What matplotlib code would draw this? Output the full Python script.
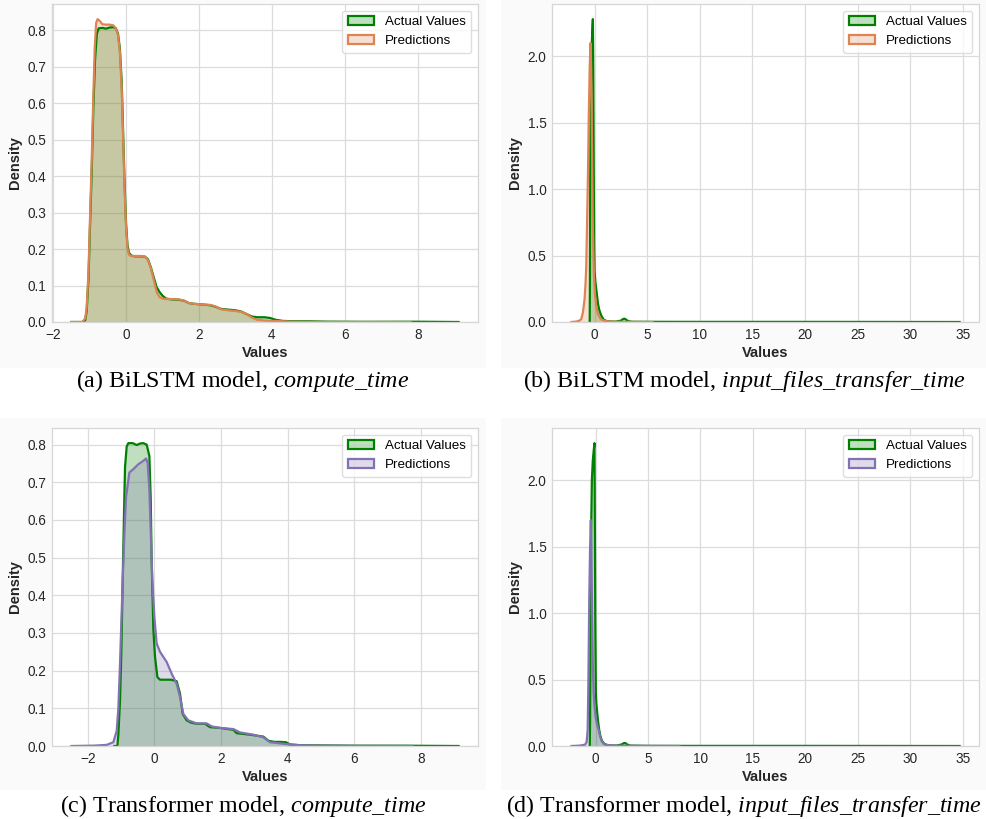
import matplotlib
matplotlib.use("Agg")
import matplotlib.pyplot as plt
from matplotlib.patches import Patch, Rectangle

# ---------------- data ----------------
# (a) BiLSTM, compute_time
a_act_x = [-1.50, -1.20, -1.12, -1.08, -1.03, -0.99, -0.94, -0.90, -0.85, -0.80, -0.75, -0.65, -0.55,
           -0.45, -0.35, -0.28, -0.22, -0.17, -0.12, -0.08, -0.04, 0.00, 0.04, 0.08, 0.14, 0.25, 0.40,
           0.52, 0.60, 0.68, 0.76, 0.84, 0.92, 1.00, 1.10, 1.25, 1.45, 1.60, 1.72, 1.85, 2.10, 2.30,
           2.45, 2.60, 2.80, 3.00, 3.15, 3.30, 3.45, 3.60, 3.80, 3.95, 4.10, 4.30, 4.60, 5.00, 5.50,
           6.50, 8.00, 9.12]
a_act_y = [0.0, 0.0, 0.005, 0.03, 0.12, 0.26, 0.42, 0.58, 0.72, 0.79, 0.805, 0.806, 0.804,
           0.807, 0.808, 0.805, 0.79, 0.75, 0.66, 0.52, 0.38, 0.27, 0.21, 0.19, 0.182, 0.180, 0.180,
           0.179, 0.172, 0.150, 0.122, 0.095, 0.082, 0.072, 0.064, 0.062, 0.061, 0.058, 0.052, 0.050,
           0.048, 0.046, 0.042, 0.036, 0.034, 0.032, 0.029, 0.022, 0.015, 0.013, 0.013, 0.011, 0.006,
           0.003, 0.002, 0.002, 0.001, 0.0005, 0.0008, 0.0]
a_pred_x = [-1.50, -1.20, -1.12, -1.08, -1.03, -0.99, -0.94, -0.90, -0.86, -0.82, -0.78, -0.72, -0.65,
            -0.55, -0.45, -0.35, -0.28, -0.22, -0.17, -0.12, -0.08, -0.04, 0.00, 0.04, 0.08, 0.14,
            0.25, 0.40, 0.52, 0.60, 0.68, 0.76, 0.84, 0.92, 1.00, 1.10, 1.25, 1.45, 1.60, 1.72, 1.85,
            2.10, 2.30, 2.45, 2.60, 2.80, 3.00, 3.15, 3.30, 3.45, 3.60, 3.80, 4.00, 4.30, 4.60, 5.50,
            7.80]
a_pred_y = [0.0, 0.0, 0.01, 0.04, 0.14, 0.28, 0.45, 0.61, 0.75, 0.82, 0.83, 0.825, 0.816,
            0.815, 0.815, 0.813, 0.805, 0.785, 0.74, 0.64, 0.50, 0.36, 0.26, 0.20, 0.185, 0.180,
            0.181, 0.181, 0.179, 0.170, 0.148, 0.115, 0.082, 0.068, 0.064, 0.063, 0.063, 0.062, 0.058,
            0.052, 0.050, 0.048, 0.047, 0.043, 0.035, 0.032, 0.030, 0.028, 0.022, 0.012, 0.006, 0.004,
            0.003, 0.002, 0.0005, 0.0, 0.0]

# (b) BiLSTM, input_files_transfer_time
b_act_x = [-0.46, -0.44, -0.42, -0.38, -0.32, -0.26, -0.20, -0.16, -0.12, -0.08, -0.04, 0.00, 0.08,
           0.16, 0.32, 0.45, 0.63, 0.85, 1.10, 1.50, 2.00, 2.50, 2.70, 2.85, 3.00, 3.20, 3.60, 5.0,
           10.0, 20.0, 34.7]
b_act_y = [0.0, 0.3, 0.9, 1.5, 1.9, 2.1, 2.22, 2.28, 1.9, 1.2, 0.6, 0.38, 0.30,
           0.25, 0.14, 0.09, 0.05, 0.02, 0.008, 0.004, 0.003, 0.010, 0.022, 0.025, 0.018, 0.006,
           0.002, 0.0015, 0.001, 0.001, 0.0]
b_pred_x = [-2.20, -1.75, -1.45, -1.27, -1.11, -0.95, -0.85, -0.79, -0.72, -0.63, -0.55, -0.46,
            -0.38, -0.32, -0.25, -0.16, -0.06, 0.05, 0.16, 0.32, 0.60, 1.00, 1.50, 2.50, 4.00, 5.50]
b_pred_y = [0.0, 0.003, 0.01, 0.02, 0.07, 0.17, 0.30, 0.42, 0.70, 1.10, 1.55, 1.92,
            2.10, 1.90, 1.40, 0.70, 0.35, 0.20, 0.12, 0.06, 0.02, 0.008, 0.003, 0.001, 0.0005, 0.0]

# (c) Transformer, compute_time
c_act_x = [-1.20, -1.11, -1.08, -1.03, -0.99, -0.95, -0.91, -0.88, -0.83, -0.78, -0.65, -0.53,
           -0.43, -0.33, -0.23, -0.15, -0.11, -0.08, -0.03, 0.02, 0.09, 0.17, 0.30, 0.50, 0.67,
           0.77, 0.85, 0.97, 1.10, 1.27, 1.52, 1.67, 1.97, 2.37, 2.47, 2.87, 3.27, 3.42, 3.60,
           3.77, 3.95, 4.07, 4.40, 5.00, 6.00, 7.50, 9.13]
c_act_y = [0.0, 0.0, 0.03, 0.12, 0.25, 0.44, 0.62, 0.74, 0.795, 0.804, 0.804, 0.799,
           0.803, 0.804, 0.80, 0.77, 0.66, 0.49, 0.31, 0.237, 0.183, 0.176, 0.176, 0.176, 0.172,
           0.139, 0.085, 0.068, 0.062, 0.059, 0.059, 0.050, 0.048, 0.043, 0.034, 0.030, 0.025, 0.014,
           0.011, 0.011, 0.010, 0.004, 0.002, 0.0015, 0.0008, 0.0008, 0.0]
c_pred_x = [-2.49, -1.80, -1.43, -1.23, -1.13, -1.08, -1.03, -0.99, -0.95, -0.90, -0.85, -0.75,
            -0.63, -0.48, -0.33, -0.25, -0.20, -0.15, -0.11, -0.06, 0.00, 0.07, 0.17, 0.37, 0.52,
            0.67, 0.77, 0.87, 1.02, 1.27, 1.57, 1.72, 1.97, 2.37, 2.57, 2.97, 3.27, 3.47, 3.97,
            4.37, 5.00, 6.00, 7.75]
c_pred_y = [0.0, 0.001, 0.003, 0.01, 0.04, 0.10, 0.22, 0.33, 0.44, 0.56, 0.66, 0.726,
            0.735, 0.748, 0.757, 0.763, 0.752, 0.68, 0.575, 0.44, 0.343, 0.272, 0.25, 0.223, 0.192,
            0.165, 0.13, 0.085, 0.068, 0.060, 0.060, 0.052, 0.048, 0.045, 0.036, 0.030, 0.023, 0.010,
            0.005, 0.002, 0.001, 0.0005, 0.0]

# (d) Transformer, input_files_transfer_time
d_act_x = [-0.55, -0.52, -0.48, -0.42, -0.35, -0.26, -0.18, -0.10, -0.06, -0.02, 0.03, 0.08,
           0.16, 0.25, 0.35, 0.45, 0.60, 0.86, 1.20, 2.00, 2.50, 2.70, 2.85, 3.00, 3.30, 5.0,
           10.0, 20.0, 34.7]
d_act_y = [0.0, 0.2, 0.9, 1.6, 2.0, 2.15, 2.22, 2.28, 1.6, 0.9, 0.40, 0.32,
           0.25, 0.18, 0.12, 0.08, 0.04, 0.015, 0.005, 0.003, 0.012, 0.022, 0.022, 0.012, 0.003, 0.001,
           0.001, 0.001, 0.0]
d_pred_x = [-2.30, -1.50, -1.00, -0.85, -0.75, -0.68, -0.60, -0.52, -0.45, -0.40, -0.33, -0.26,
            -0.18, -0.10, 0.00, 0.15, 0.30, 0.45, 0.60, 0.80, 1.20, 2.00, 3.00, 5.00, 8.00]
d_pred_y = [0.0, 0.003, 0.01, 0.03, 0.12, 0.50, 1.10, 1.50, 1.70, 1.50, 1.00, 0.62,
            0.40, 0.30, 0.22, 0.16, 0.12, 0.07, 0.035, 0.015, 0.006, 0.003, 0.002, 0.001, 0.0]

captions = [("(a) BiLSTM model, ", "compute_time"),
            ("(b) BiLSTM model, ", "input_files_transfer_time"),
            ("(c) Transformer model, ", "compute_time"),
            ("(d) Transformer model, ", "input_files_transfer_time")]
legend_labels = ["Actual Values", "Predictions"]

# ---------------- styling ----------------
W, H = 987, 819
DPI = 100
plt.rcParams["font.family"] = ["Liberation Sans", "DejaVu Sans"]
plt.rcParams["mathtext.fontset"] = "custom"
plt.rcParams["mathtext.rm"] = "Liberation Serif"
plt.rcParams["mathtext.it"] = "Liberation Serif:italic"

GREEN = "#008000"
ORANGE = "#dd8452"
PURPLE = "#8172b3"
GRID = "#dcdcdc"

fig = plt.figure(figsize=(W / DPI, H / DPI), dpi=DPI, facecolor="white")

# faint background of the original sub-images
for (x0, y0, x1, y1) in [(0, 0, 486, 368), (501, 0, 987, 368),
                         (0, 418, 486, 790), (501, 418, 987, 790)]:
    fig.patches.append(Rectangle((x0 / W, 1 - y1 / H), (x1 - x0) / W, (y1 - y0) / H,
                                 transform=fig.transFigure, facecolor="#fafafa",
                                 edgecolor="none", zorder=-10))

# axes boxes in pixels: left, top, right, bottom
boxes = [(52, 4, 478, 322), (552, 4, 979, 322), (52, 428, 478, 746), (552, 428, 979, 746)]
panels = [
    (a_act_x, a_act_y, a_pred_x, a_pred_y, ORANGE, [-2, 0, 2, 4, 6, 8], [0.0, 0.1, 0.2, 0.3, 0.4, 0.5, 0.6, 0.7, 0.8]),
    (b_act_x, b_act_y, b_pred_x, b_pred_y, ORANGE, [0, 5, 10, 15, 20, 25, 30, 35], [0.0, 0.5, 1.0, 1.5, 2.0]),
    (c_act_x, c_act_y, c_pred_x, c_pred_y, PURPLE, [-2, 0, 2, 4, 6, 8], [0.0, 0.1, 0.2, 0.3, 0.4, 0.5, 0.6, 0.7, 0.8]),
    (d_act_x, d_act_y, d_pred_x, d_pred_y, PURPLE, [0, 5, 10, 15, 20, 25, 30, 35], [0.0, 0.5, 1.0, 1.5, 2.0]),
]
caption_y = [381, 381, 806, 806]
caption_x = [243, 744, 243, 744]

for i, (box, p) in enumerate(zip(boxes, panels)):
    l, t, r, b = box
    ax = fig.add_axes([l / W, 1 - b / H, (r - l) / W, (b - t) / H])
    ax.set_facecolor("white")
    ax_x, ax_y, pr_x, pr_y, pcol, xt, yt = p
    ax.fill_between(ax_x, ax_y, 0, color=GREEN, alpha=0.25, linewidth=0)
    ax.plot(ax_x, ax_y, color=GREEN, linewidth=1.6)
    ax.fill_between(pr_x, pr_y, 0, color=pcol, alpha=0.25, linewidth=0)
    ax.plot(pr_x, pr_y, color=pcol, linewidth=1.6)
    xmin = min(min(ax_x), min(pr_x)); xmax = max(max(ax_x), max(pr_x))
    ymax = max(max(ax_y), max(pr_y))
    pad = 0.05 * (xmax - xmin)
    ax.set_xlim(xmin - pad, xmax + pad)
    ax.set_ylim(0, ymax * 1.05)
    ax.set_xticks(xt)
    ax.set_xticklabels([("\u2212" + str(abs(v))) if v < 0 else str(v) for v in xt])
    ax.set_yticks(yt)
    ax.set_yticklabels(["{:.1f}".format(v) for v in yt])
    ax.tick_params(axis="both", labelsize=9.8, length=0, pad=4, colors="#262626")
    ax.grid(True, color=GRID, linewidth=0.9)
    ax.set_axisbelow(True)
    for s in ax.spines.values():
        s.set_color("#d6d6d6")
        s.set_linewidth(0.9)
    ax.set_xlabel("Values", fontsize=10.5, fontweight="bold", labelpad=3, color="#262626")
    ax.set_ylabel("Density", fontsize=10.5, fontweight="bold", labelpad=4, color="#262626")
    handles = [Patch(facecolor=(0, 0.5, 0, 0.25), edgecolor=GREEN, linewidth=1.6),
               Patch(facecolor=matplotlib.colors.to_rgba(pcol, 0.25), edgecolor=pcol, linewidth=1.6)]
    ax.legend(handles, legend_labels, loc="upper right", fontsize=9.6,
              frameon=True, fancybox=True, framealpha=0.8, edgecolor="#d6d6d6")
    pre, it = captions[i]
    fig.text(caption_x[i] / W, 1 - caption_y[i] / H,
             pre + r"$\mathit{" + it.replace("_", r"\_") + "}$",
             ha="center", va="center", fontsize=17.3, family="Liberation Serif", color="black")

fig.savefig("out.png", dpi=DPI, facecolor="white")
